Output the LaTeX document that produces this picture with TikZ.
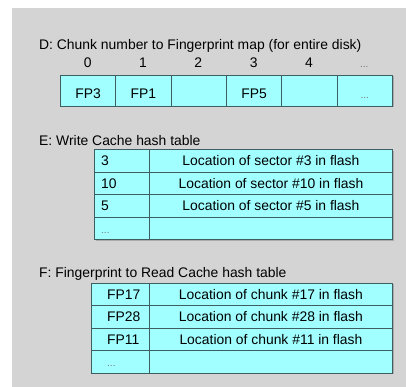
\documentclass[tikz,border=0pt]{standalone}
\usepackage{fontspec}
\setmainfont{Liberation Sans}
\definecolor{panel}{HTML}{D4D4D4}
\definecolor{cellfill}{HTML}{A2FFFF}
\definecolor{cellline}{HTML}{3E5E60}
\definecolor{shade}{HTML}{ABABAB}
\newcommand{\dotsmark}{{\fontsize{10}{12}\selectfont\color{black!55}...}}
\begin{document}
\begin{tikzpicture}[x=1pt,y=-1pt,
  every node/.style={font=\fontsize{13.9}{15}\selectfont, inner sep=0pt, text=black},
  cell/.style={draw=cellline, fill=cellfill, line width=0.9pt, anchor=north west,
               minimum height=#1, text height=9.9pt, text depth=0pt},
  cell/.default=22.5pt,
  title/.style={anchor=base west},
  colnum/.style={anchor=base},
  shadow/.style={fill=shade}]
  % page and panel
  \useasboundingbox (0,0) rectangle (406,387);
  \fill[white] (0,0) rectangle (406,387);
  \fill[panel] (12,8) rectangle (406,387);

  % ---- D: chunk map ----
  \node[title] (dtitle) at (39,50) {D: Chunk number to Fingerprint map (for entire disk)};
  \fill[shadow] (61.5,76.5) rectangle (393.5,107.5);
  \foreach \i/\t in {0/FP3,1/FP1,2/{},3/FP5,4/{},5/{\dotsmark}} {
    \node[cell=31pt, minimum width=55.33pt, text height=14.9pt]
      (d\i) at ({60+55.33*\i},75) {\t};
  }
  \foreach \i/\t in {0/0,1/1,2/2,3/3,4/4,5/{\dotsmark}} {
    \node[colnum] (n\i) at ({87.7+55.33*\i},67.7) {\t};
  }

  % ---- E: write cache ----
  \node[title] (etitle) at (39,146) {E: Write Cache hash table};
  \fill[shadow] (95.5,150.8) rectangle (393.5,240.8);
  \foreach \r/\k/\v in {0/3/{Location of sector \#3 in flash},
                        1/10/{Location of sector \#10 in flash},
                        2/5/{Location of sector \#5 in flash},
                        3/{\dotsmark}/{}} {
    \node[cell, minimum width=55pt] (ek\r) at (94,{149.3+22.5*\r}) {};
    \node[anchor=west, text height=9.9pt, text depth=0pt] (ekt\r) at ([xshift=7pt]ek\r.west) {\k};
    \node[cell, minimum width=243pt] (ev\r) at (149,{149.3+22.5*\r}) {\v};
  }

  % ---- F: read cache ----
  \node[title] (ftitle) at (39,277.5) {F: Fingerprint to Read Cache hash table};
  \fill[shadow] (92.5,284.2) rectangle (393.5,374.2);
  \foreach \r/\k/\v in {0/FP17/{Location of chunk \#17 in flash},
                        1/FP28/{Location of chunk \#28 in flash},
                        2/FP11/{Location of chunk \#11 in flash},
                        3/{\dotsmark}/{}} {
    \node[cell, minimum width=58pt] (fk\r) at (91,{282.7+22.5*\r}) {};
    \node[anchor=west, text height=9.9pt, text depth=0pt] (fkt\r) at ([xshift=16pt]fk\r.west) {\k};
    \node[cell, minimum width=243pt] (fv\r) at (149,{282.7+22.5*\r}) {\v};
  }
\end{tikzpicture}
\end{document}
